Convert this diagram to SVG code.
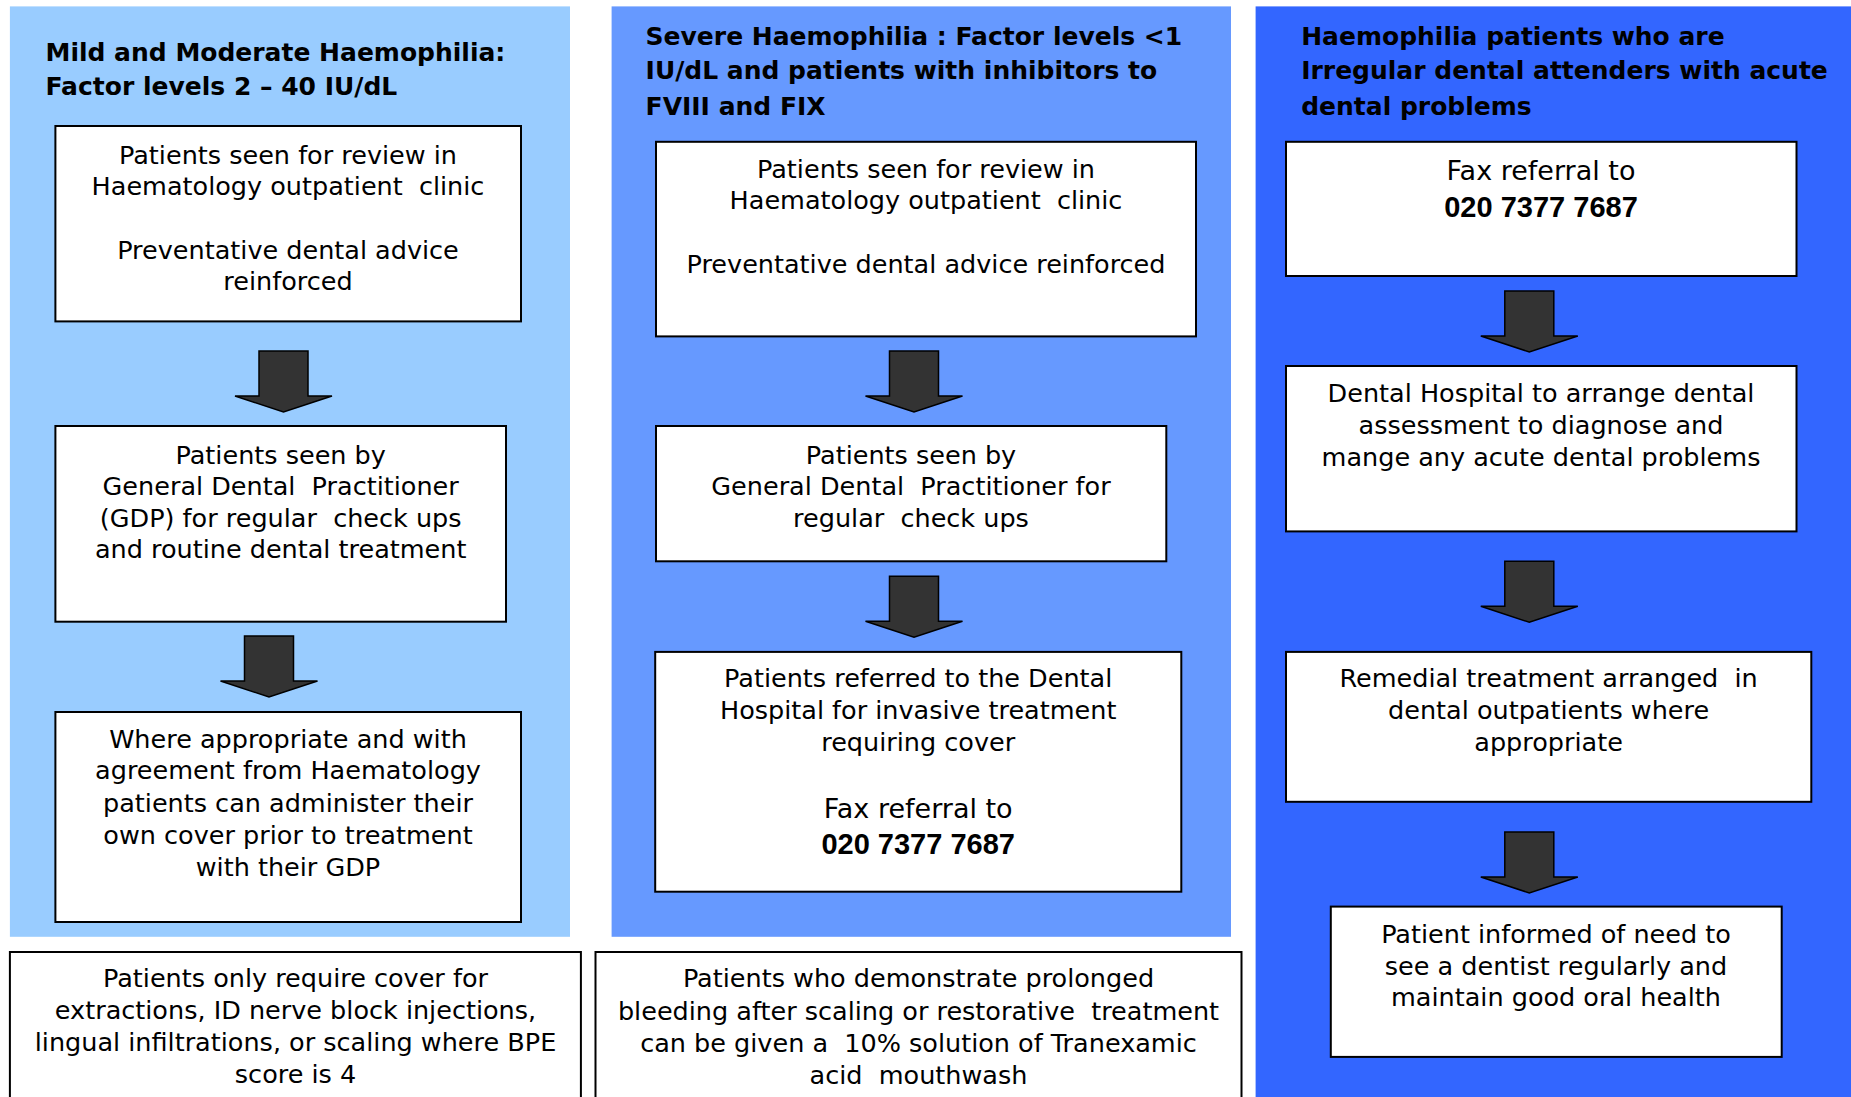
<svg xmlns="http://www.w3.org/2000/svg" xmlns:xlink="http://www.w3.org/1999/xlink" width="1851" height="1097" viewBox="0 0 1851 1097">
<style>
.bg{stroke:none}
.box{fill:#fff;stroke:#000;stroke-width:2}
.t{font-family:"DejaVu Sans",sans-serif;font-size:25.5px;fill:#000;text-anchor:middle}
.fx{font-family:"DejaVu Sans",sans-serif;font-size:27px;fill:#000;text-anchor:middle}
.ph{font-family:"Liberation Sans",Arial,sans-serif;font-size:29px;font-weight:bold;fill:#000;text-anchor:middle}
.h{font-family:"DejaVu Sans",sans-serif;font-size:25px;font-weight:bold;fill:#000}
.arr{fill:#333;stroke:#000;stroke-width:1.5;stroke-linejoin:miter}
</style>
<defs>
<path id="arrow" class="arr" d="M -24.5,0 H 24.5 V 45 H 48.5 L 0,61 L -48.5,45 H -24.5 Z"/>
</defs>
<rect class="bg" x="0" y="0" width="1851" height="1097" fill="#fff"/>
<g id="panel-mild">
<rect class="bg" x="9.9" y="6.4" width="560.1" height="930.4" fill="#99CCFF"/>
<text class="h"><tspan x="45.5" y="60.7">Mild and Moderate Haemophilia:</tspan><tspan x="45.5" y="94.6">Factor levels 2 – 40 IU/dL</tspan></text>
</g>
<g id="panel-severe">
<rect class="bg" x="611.6" y="6.4" width="619.4" height="930.4" fill="#6699FF"/>
<text class="h"><tspan x="645.6" y="44.6">Severe Haemophilia : Factor levels &lt;1</tspan><tspan x="645.6" y="79.3">IU/dL and patients with inhibitors to</tspan><tspan x="645.6" y="115">FVIII and FIX</tspan></text>
</g>
<g id="panel-irregular">
<rect class="bg" x="1255.6" y="6.4" width="600" height="1100" fill="#3366FF"/>
<text class="h"><tspan x="1301.2" y="44.6">Haemophilia patients who are</tspan><tspan x="1301.2" y="79.3">Irregular dental attenders with acute</tspan><tspan x="1301.2" y="115">dental problems</tspan></text>
</g>
<g id="connectors">
<use xlink:href="#arrow" x="283.5" y="351"/>
<use xlink:href="#arrow" x="269" y="636"/>
<use xlink:href="#arrow" x="914" y="351"/>
<use xlink:href="#arrow" x="914" y="576.2"/>
<use xlink:href="#arrow" x="1529.3" y="291"/>
<use xlink:href="#arrow" x="1529.3" y="561.3"/>
<use xlink:href="#arrow" x="1529.3" y="832"/>
</g>
<g id="node-mild-review">
<rect class="box" x="55.4" y="126" width="465.6" height="195.4"/>
<text class="t" xml:space="preserve"><tspan x="288" y="163.6">Patients seen for review in</tspan><tspan x="288" y="194.6">Haematology outpatient  clinic</tspan><tspan x="288" y="259">Preventative dental advice</tspan><tspan x="288" y="290">reinforced</tspan></text>
</g>
<g id="node-mild-gdp">
<rect class="box" x="55.4" y="426" width="450.6" height="195.7"/>
<text class="t" xml:space="preserve"><tspan x="280.7" y="463.6">Patients seen by</tspan><tspan x="280.7" y="494.6">General Dental  Practitioner</tspan><tspan x="280.7" y="527">(GDP) for regular  check ups</tspan><tspan x="280.7" y="557.8">and routine dental treatment</tspan></text>
</g>
<g id="node-mild-selfcover">
<rect class="box" x="55.4" y="712" width="465.6" height="210"/>
<text class="t" xml:space="preserve"><tspan x="288" y="747.8">Where appropriate and with</tspan><tspan x="288" y="778.7">agreement from Haematology</tspan><tspan x="288" y="811.8">patients can administer their</tspan><tspan x="288" y="843.7">own cover prior to treatment</tspan><tspan x="288" y="875.7">with their GDP</tspan></text>
</g>
<g id="node-mild-note">
<rect class="box" x="9.9" y="952" width="571" height="160"/>
<text class="t" xml:space="preserve"><tspan x="295.5" y="987">Patients only require cover for</tspan><tspan x="295.5" y="1019">extractions, ID nerve block injections,</tspan><tspan x="295.5" y="1050.5">lingual infiltrations, or scaling where BPE</tspan><tspan x="295.5" y="1082.8">score is 4</tspan></text>
</g>
<g id="node-severe-review">
<rect class="box" x="656" y="141.8" width="540" height="194.6"/>
<text class="t" xml:space="preserve"><tspan x="926" y="177.5">Patients seen for review in</tspan><tspan x="926" y="209">Haematology outpatient  clinic</tspan><tspan x="926" y="273.2">Preventative dental advice reinforced</tspan></text>
</g>
<g id="node-severe-gdp">
<rect class="box" x="656" y="426" width="510.3" height="135.3"/>
<text class="t" xml:space="preserve"><tspan x="911" y="463.6">Patients seen by</tspan><tspan x="911" y="494.6">General Dental  Practitioner for</tspan><tspan x="911" y="526.8">regular  check ups</tspan></text>
</g>
<g id="node-severe-referral">
<rect class="box" x="655.2" y="651.9" width="526.1" height="239.8"/>
<text class="t" xml:space="preserve"><tspan x="918.2" y="687.4">Patients referred to the Dental</tspan><tspan x="918.2" y="719.4">Hospital for invasive treatment</tspan><tspan x="918.2" y="751.4">requiring cover</tspan></text>
<text class="fx" x="918.2" y="817.8">Fax referral to</text>
<text class="ph" x="918.2" y="854.4">020 7377 7687</text>
</g>
<g id="node-severe-note">
<rect class="box" x="595.5" y="952" width="646" height="160"/>
<text class="t" xml:space="preserve"><tspan x="918.5" y="987">Patients who demonstrate prolonged</tspan><tspan x="918.5" y="1019.6">bleeding after scaling or restorative  treatment</tspan><tspan x="918.5" y="1051.5">can be given a  10% solution of Tranexamic</tspan><tspan x="918.5" y="1083.5">acid  mouthwash</tspan></text>
</g>
<g id="node-irr-fax">
<rect class="box" x="1286" y="141.8" width="510.5" height="134.2"/>
<text class="fx" x="1541" y="180.4">Fax referral to</text>
<text class="ph" x="1541" y="216.8">020 7377 7687</text>
</g>
<g id="node-irr-assess">
<rect class="box" x="1286" y="366" width="510.5" height="165.4"/>
<text class="t" xml:space="preserve"><tspan x="1541" y="401.8">Dental Hospital to arrange dental</tspan><tspan x="1541" y="434">assessment to diagnose and</tspan><tspan x="1541" y="466">mange any acute dental problems</tspan></text>
</g>
<g id="node-irr-remedial">
<rect class="box" x="1286" y="651.9" width="525.3" height="149.9"/>
<text class="t" xml:space="preserve"><tspan x="1548.6" y="687.4">Remedial treatment arranged  in</tspan><tspan x="1548.6" y="719.4">dental outpatients where</tspan><tspan x="1548.6" y="751.4">appropriate</tspan></text>
</g>
<g id="node-irr-inform">
<rect class="box" x="1330.8" y="906.6" width="450.9" height="150.3"/>
<text class="t" xml:space="preserve"><tspan x="1556" y="942.5">Patient informed of need to</tspan><tspan x="1556" y="974.5">see a dentist regularly and</tspan><tspan x="1556" y="1006.4">maintain good oral health</tspan></text>
</g>
</svg>
